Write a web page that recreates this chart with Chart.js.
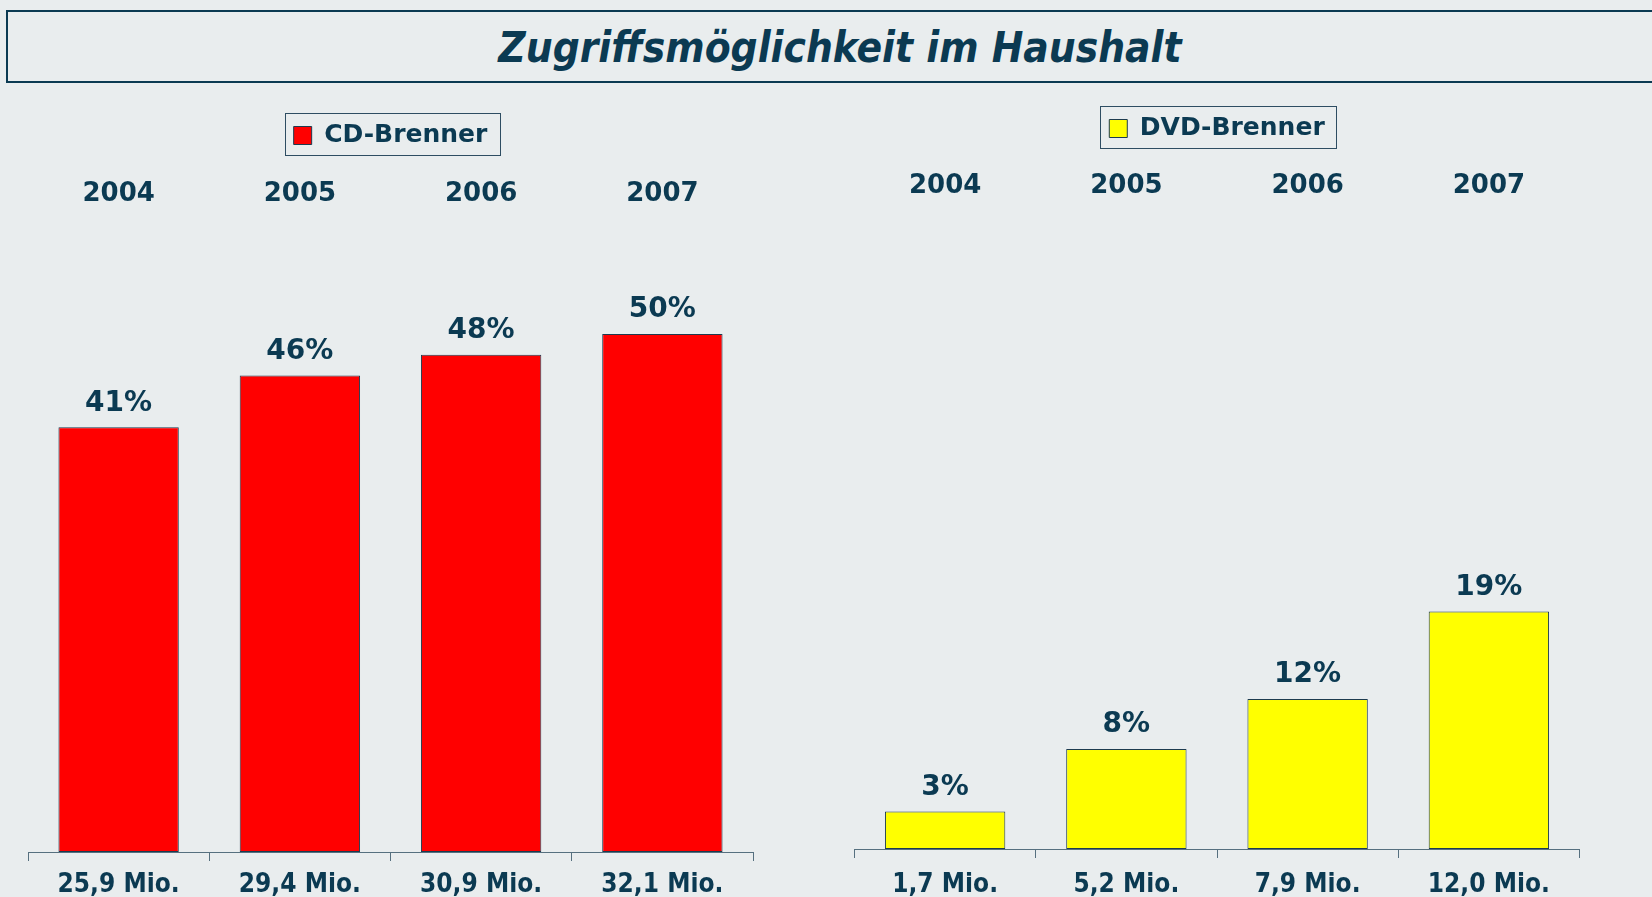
<!DOCTYPE html>
<html>
<head>
<meta charset="utf-8">
<script src="https://cdn.jsdelivr.net/npm/chart.js@4.4.0/dist/chart.umd.min.js"></script>
<style>
html,body{margin:0;padding:0;background:#e9edee;width:1652px;height:897px;overflow:hidden;position:relative;}
#tbox{position:absolute;left:6px;top:10px;width:1700px;height:69px;border:2px solid #0b3a52;}
#ttext{position:absolute;left:0;top:27px;width:1680px;text-align:center;font-family:'DejaVu Sans Condensed','DejaVu Sans';font-weight:bold;font-style:italic;font-size:42px;line-height:42px;color:#0b3a52;white-space:nowrap;}
canvas{position:absolute;}
</style>
</head>
<body>
<div id="tbox"></div>
<div id="ttext">Zugriffsmöglichkeit im Haushalt</div>
<canvas id="cd" width="800" height="784" style="left:0px;top:113px;"></canvas>
<canvas id="dvd" width="852" height="791" style="left:800px;top:106px;"></canvas>
<script>
// ---- data ----
const years = ['2004', '2005', '2006', '2007'];
const cdPercent = [41, 46, 48, 50];
const cdMio = ['25,9 Mio.', '29,4 Mio.', '30,9 Mio.', '32,1 Mio.'];
const dvdPercent = [3, 8, 12, 19];
const dvdMio = ['1,7 Mio.', '5,2 Mio.', '7,9 Mio.', '12,0 Mio.'];

const NAVY = '#0b3a52';
const AXIS = '#56707f';
const FAM = "'DejaVu Sans Condensed', 'DejaVu Sans'";
const FAM2 = "'DejaVu Sans'";

const valueLabels = {
  id: 'valueLabels',
  afterDatasetsDraw(chart) {
    const ctx = chart.ctx;
    const meta = chart.getDatasetMeta(0);
    const data = chart.data.datasets[0].data;
    ctx.save();
    ctx.font = 'bold 28px ' + FAM2;
    ctx.fillStyle = NAVY;
    ctx.textAlign = 'center';
    ctx.textBaseline = 'middle';
    meta.data.forEach((bar, i) => {
      ctx.fillText(data[i] + '%', bar.x, bar.y - 24);
    });
    ctx.restore();
  }
};

const legendBorder = {
  id: 'legendBorder',
  afterDraw(chart) {
    const lg = chart.legend;
    if (!lg || !lg.legendHitBoxes || !lg.legendHitBoxes.length) return;
    const hb = lg.legendHitBoxes[0];
    const ctx = chart.ctx;
    const x = Math.round(hb.left - 9) + 0.5;
    const y = Math.round(hb.top + hb.height / 2 - 23) + 0.5;
    const w = Math.round(hb.width + 21);
    ctx.save();
    ctx.strokeStyle = '#2e4d62';
    ctx.lineWidth = 1;
    ctx.strokeRect(x, y, w, 42);
    ctx.restore();
  }
};

function makeChart(id, label, values, mio, color, padL, padR, yMax, bottomH, topH, tickPad) {
  return new Chart(document.getElementById(id), {
    type: 'bar',
    data: {
      labels: mio,
      datasets: [{
        label: label,
        data: values,
        backgroundColor: color,
        borderColor: '#1d3b4f',
        borderWidth: 1,
        borderSkipped: false,
        categoryPercentage: 1,
        barPercentage: 0.664
      }]
    },
    options: {
      responsive: false,
      animation: false,
      layout: { padding: { left: padL, right: padR, top: 0, bottom: 0 } },
      plugins: {
        legend: {
          display: true,
          position: 'top',
          labels: {
            boxWidth: 18,
            boxHeight: 18,
            color: NAVY,
            font: { family: FAM2, size: 25, weight: 'bold' },
            padding: 10
          }
        },
        tooltip: { enabled: false }
      },
      scales: {
        x: {
          position: 'bottom',
          offset: true,
          grid: { display: true, drawOnChartArea: false, drawTicks: true, tickLength: 9, color: AXIS, tickColor: AXIS, offset: true },
          border: { display: true, color: AXIS, width: 1 },
          ticks: { color: NAVY, font: { family: FAM, size: 26, weight: 'bold' }, padding: tickPad, maxRotation: 0 },
          afterFit: (s) => { s.height = bottomH; }
        },
        x2: {
          type: 'category',
          labels: years,
          position: 'top',
          offset: true,
          grid: { display: false },
          border: { display: false },
          ticks: { color: NAVY, font: { family: FAM2, size: 26, weight: 'bold' }, padding: -2 },
          afterFit: (s) => { s.height = topH; }
        },
        y: {
          display: false,
          min: 0,
          max: yMax
        }
      }
    },
    plugins: [valueLabels, legendBorder]
  });
}

makeChart('cd', 'CD-Brenner', cdPercent, cdMio, '#ff0000', 28, 47, 61.4, 45, 58, 9);
makeChart('dvd', 'DVD-Brenner', dvdPercent, dvdMio, '#ffff00', 54.5, 72.5, 51.3, 48, 57, 12);
</script>
</body>
</html>
